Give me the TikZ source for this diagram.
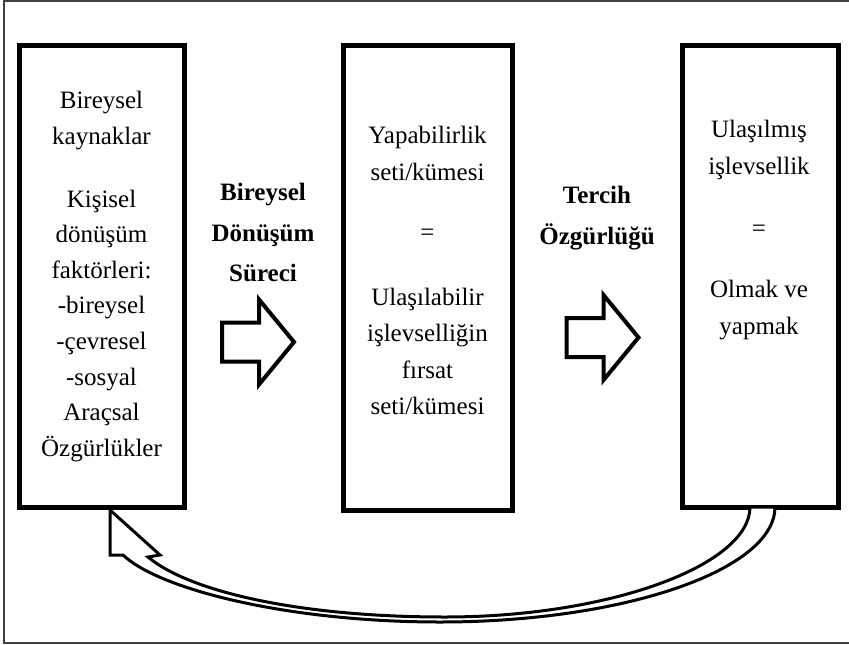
\documentclass[tikz,border=0pt]{standalone}
\usepackage{fontspec}
\setmainfont{Liberation Serif}

\tikzset{
  box/.style={draw, line width=5pt, inner sep=0pt},
  boxtext/.style={anchor=north, align=center, inner sep=0pt},
  steptext/.style={anchor=north, align=center, inner sep=0pt, font=\fontsize{25}{40.5}\selectfont\bfseries},
  arrowline/.style={draw, fill=white, line width=4pt},
  loopline/.style={draw, fill=white, line width=3pt},
  frameline/.style={draw=black!75, line width=2pt},
  blockarrow/.pic={
    \path[arrowline] (-37,-19.5) -- (0,-19.5) -- (0,-42.5) -- (35,0)
      -- (0,42.5) -- (0,19.5) -- (-37,19.5) -- cycle;
  }
}

\begin{document}
\begin{tikzpicture}[x=1pt, y=-1pt]
                \useasboundingbox (0,0) rectangle (849,645);
                % Outer frame
                \draw[frameline] (849,1) -- (4,1) -- (4,643) -- (849,643);

                % Boxes
                \node[box, minimum width=164.5, minimum height=461.5] (b1) at (101.75,276.25) {};
                \node[box, minimum width=169.5, minimum height=465]   (b2) at (427.75,278) {};
                \node[box, minimum width=156,   minimum height=462]   (b3) at (760,276) {};

                % Box texts
                \node[boxtext, font=\fontsize{25}{35.6}\selectfont] (t1) at (101.5,91)
                  {Bireysel\\kaynaklar\\[27.4pt]Kişisel\\dönüşüm\\faktörleri:\\-bireysel\\-çevresel\\-sosyal\\Araçsal\\Özgürlükler};
                \node[boxtext, font=\fontsize{25}{36.5}\selectfont] (t2) at (427.5,126)
                  {Yapabilirlik\\seti/kümesi\\[23.5pt]=\\[28.5pt]Ulaşılabilir\\işlevselliğin\\fırsat\\seti/kümesi};
                \node[boxtext, font=\fontsize{25}{37}\selectfont] (t3) at (759,120)
                  {Ulaşılmış\\işlevsellik\\[25pt]=\\[24pt]Olmak ve\\yapmak};

                % Step labels and block arrows
                \node[steptext] (s1) at (263,183) {Bireysel\\Dönüşüm\\Süreci};
                \node[steptext] (s2) at (597,186) {Tercih\\Özgürlüğü};
                \pic (arrowA) at (259,342) {blockarrow};
                \pic (arrowB) at (603.5,337.5) {blockarrow};

                % Curved arrow back to the first box
                \coordinate (tailin)  at (750,507);
                \coordinate (tailout) at (775,507);
                \coordinate (tip)     at (110,510);
                \path[loopline] (tailin) .. controls (750,565) and (610,617) .. (445,617)
                  .. controls (300,617) and (190,592) .. (148,557)
                  -- (160,555) -- (tip) -- (110,555) -- (123,555)
                  .. controls (160,590) and (290,622) .. (440,622)
                  .. controls (624,622) and (775,570) .. (tailout) -- cycle;
\end{tikzpicture}
\end{document}
